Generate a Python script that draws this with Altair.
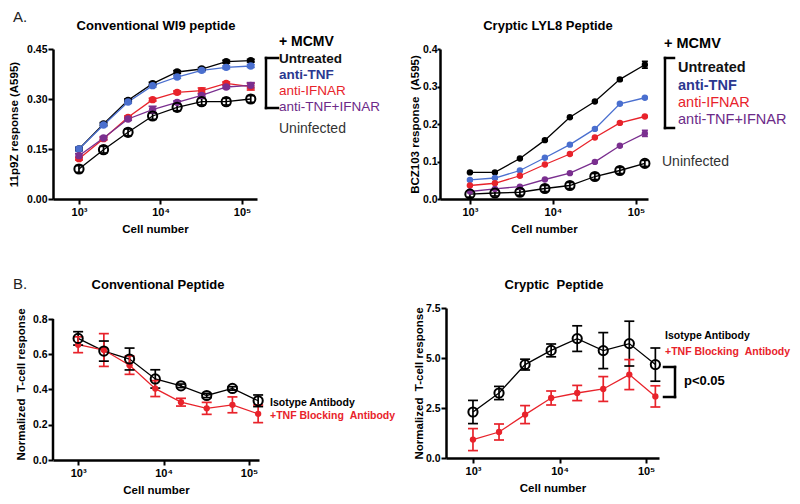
import altair as alt
import pandas as pd

FONT = "Liberation Sans"
NB = "\u00a0"  # keeps the double spaces of the original labels visible

# ---------------- data ----------------
cells = [1000, 2000, 4000, 8000, 16000, 32000, 64000, 128000]

# Panel A (left): Conventional WI9 peptide, 11p9Z response (A595)
a1_untreated = [0.150, 0.225, 0.296, 0.346, 0.381, 0.390, 0.412, 0.415]
a1_anti_tnf = [0.150, 0.222, 0.291, 0.340, 0.366, 0.386, 0.395, 0.399]
a1_anti_ifnar = [0.121, 0.181, 0.245, 0.298, 0.320, 0.325, 0.347, 0.337]
a1_anti_both = [0.130, 0.183, 0.240, 0.268, 0.290, 0.311, 0.336, 0.341]
a1_uninfected = [0.090, 0.148, 0.200, 0.249, 0.275, 0.292, 0.292, 0.300]
a1_untreated_err = [0.004, 0.004, 0.004, 0.004, 0.004, 0.004, 0.004, 0.004]
a1_anti_tnf_err = [0.006, 0.004, 0.004, 0.004, 0.004, 0.004, 0.004, 0.004]
a1_anti_ifnar_err = [0.004, 0.004, 0.004, 0.004, 0.004, 0.008, 0.004, 0.010]
a1_anti_both_err = [0.006, 0.004, 0.004, 0.010, 0.004, 0.004, 0.004, 0.008]
a1_uninfected_err = [0.010, 0.010, 0.010, 0.010, 0.010, 0.010, 0.010, 0.010]

# Panel A (right): Cryptic LYL8 peptide, BCZ103 response (A595)
a2_untreated = [0.071, 0.071, 0.108, 0.157, 0.218, 0.260, 0.319, 0.358]
a2_anti_tnf = [0.051, 0.056, 0.076, 0.110, 0.145, 0.187, 0.254, 0.270]
a2_anti_ifnar = [0.036, 0.042, 0.062, 0.092, 0.120, 0.164, 0.203, 0.220]
a2_anti_both = [0.020, 0.027, 0.033, 0.052, 0.069, 0.099, 0.142, 0.175]
a2_uninfected = [0.013, 0.016, 0.018, 0.028, 0.036, 0.060, 0.076, 0.095]
a2_untreated_err = [0.002, 0.002, 0.002, 0.002, 0.002, 0.002, 0.003, 0.009]
a2_anti_tnf_err = [0.002, 0.002, 0.002, 0.002, 0.002, 0.002, 0.002, 0.002]
a2_anti_ifnar_err = [0.002, 0.002, 0.002, 0.002, 0.002, 0.002, 0.002, 0.002]
a2_anti_both_err = [0.002, 0.002, 0.002, 0.002, 0.002, 0.002, 0.002, 0.008]
a2_uninfected_err = [0.008, 0.008, 0.008, 0.008, 0.008, 0.008, 0.008, 0.008]

# Panel B (left): Conventional peptide, normalized T-cell response
b1_isotype = [0.690, 0.618, 0.573, 0.460, 0.421, 0.366, 0.406, 0.336]
b1_isotype_err = [0.038, 0.057, 0.062, 0.052, 0.010, 0.012, 0.010, 0.033]
b1_tnf_block = [0.654, 0.624, 0.538, 0.405, 0.328, 0.293, 0.313, 0.262]
b1_tnf_block_err = [0.045, 0.093, 0.052, 0.045, 0.022, 0.034, 0.045, 0.050]

# Panel B (right): Cryptic peptide, normalized T-cell response
b2_isotype = [2.30, 3.25, 4.67, 5.38, 5.97, 5.37, 5.72, 4.67]
b2_isotype_err = [0.58, 0.33, 0.27, 0.32, 0.64, 0.90, 1.12, 0.83]
b2_tnf_block = [0.92, 1.30, 2.17, 3.00, 3.25, 3.45, 4.17, 3.08]
b2_tnf_block_err = [0.55, 0.40, 0.45, 0.35, 0.38, 0.62, 0.75, 0.53]

# texts
a_series = ["Untreated", "anti-TNF", "anti-IFNAR", "anti-TNF+IFNAR", "Uninfected"]
b_series = ["Isotype Antibody", "+TNF Blocking " + NB + "Antibody"]
panel_titles = ["Conventional WI9 peptide", "Cryptic LYL8 Peptide",
                "Conventional Peptide", "Cryptic " + NB + "Peptide"]
y_titles = ["11p9Z response (A595)", "BCZ103 response " + NB + "(A595)",
            "Normalized " + NB + "T-cell response", "Normalized " + NB + "T-cell response"]
x_title = "Cell number"
group_label = "+ MCMV"
signif_label = "p<0.05"
panel_letters = ["A.", "B."]
decade_ticks = [1000, 10000, 100000]

# ---------------- styling ----------------
BLACK = "#000000"
BLUE = "#4a6fcf"
RED = "#e8232b"
PURPLE = "#7a2f8f"
a_line_colors = [BLACK, BLUE, RED, PURPLE, BLACK]
a_text_colors = ["#111111", "#2b3890", RED, "#6c2a88", "#333333"]
b_line_colors = [BLACK, RED]


def long_df(series_names, values, errs):
    rows = []
    for name, vals, es in zip(series_names, values, errs):
        for c, v, e in zip(cells, vals, es):
            rows.append({"cells": c, "value": v, "lo": v - e, "hi": v + e, "series": name})
    return pd.DataFrame(rows)


def text(label, x, y, color="black", size=13.5, weight="normal", align="left"):
    return alt.Chart(pd.DataFrame({"t": [label]})).mark_text(
        align=align, baseline="middle", font=FONT, fontSize=size,
        fontWeight=weight, color=color
    ).encode(x=alt.value(x), y=alt.value(y), text="t:N")


def seg(x1, y1, x2, y2, w=2.5, opacity=1.0):
    return alt.Chart(pd.DataFrame({"a": [0]})).mark_rule(
        strokeWidth=w, color="black", strokeCap="square", opacity=opacity
    ).encode(x=alt.value(x1), x2=alt.value(x2), y=alt.value(y1), y2=alt.value(y2))


def panel(df, names, colors, open_names, x_domain, y_domain, y_values, y_fmt,
          width, height, y_title, title, title_x, y_title_pad, y_tick, y_lab_pad,
          pt_size, open_size, cap, extra, draw_axis_line=False):
    xscale = alt.Scale(type="log", domain=x_domain, nice=False)
    yscale = alt.Scale(domain=y_domain, nice=False, zero=False)
    xaxis = alt.Axis(values=decade_ticks, title=x_title,
                     labelExpr="datum.value == 1000 ? '10\u00b3' : datum.value == 10000 ? '10\u2074' : '10\u2075'",
                     tickSize=5, labelPadding=2, titlePadding=6, labelFontSize=11)
    yaxis = alt.Axis(values=y_values, format=y_fmt, title=y_title, tickSize=y_tick,
                     labelPadding=y_lab_pad, titlePadding=y_title_pad, domain=not draw_axis_line)

    def X(f="cells"):
        return alt.X(f"{f}:Q", scale=xscale, axis=xaxis)

    def Y(f):
        return alt.Y(f"{f}:Q", scale=yscale, axis=yaxis)

    color = alt.Color("series:N", scale=alt.Scale(domain=names, range=colors), legend=None)
    base = alt.Chart(df)
    filled = [n for n in names if n not in open_names]

    lines = base.mark_line(strokeWidth=1.3).encode(x=X(), y=Y("value"), color=color)
    bars = base.mark_rule(strokeWidth=1.7).encode(x=X(), y=Y("lo"), y2="hi", color=color)
    cap_lo = base.mark_rule(strokeWidth=1.7, xOffset=-cap, x2Offset=cap).encode(
        x=X(), x2="cells", y=Y("lo"), color=color)
    cap_hi = base.mark_rule(strokeWidth=1.7, xOffset=-cap, x2Offset=cap).encode(
        x=X(), x2="cells", y=Y("hi"), color=color)
    dots = base.transform_filter(
        alt.FieldOneOfPredicate(field="series", oneOf=filled)
    ).mark_circle(size=pt_size, opacity=1).encode(x=X(), y=Y("value"), color=color)
    rings = base.transform_filter(
        alt.FieldOneOfPredicate(field="series", oneOf=open_names)
    ).mark_point(shape="circle", filled=False, size=open_size, strokeWidth=2,
                 color="black", opacity=1).encode(x=X(), y=Y("value"))

    layers = [lines, bars, cap_lo, cap_hi, dots, rings]
    if draw_axis_line:
        axis_df = pd.DataFrame({"value": [y_values[0]], "top": [y_values[-1]]})
        layers.insert(0, alt.Chart(axis_df).mark_rule(strokeWidth=2.5, color="black").encode(
            x=alt.value(0), y=Y("value"), y2="top"))
    layers.append(text(title, title_x, -23, weight="bold", size=13, align="center"))
    layers += extra
    return alt.layer(*layers).properties(width=width, height=height)


# ---------------- panel A left ----------------
dfa1 = long_df(a_series,
               [a1_untreated, a1_anti_tnf, a1_anti_ifnar, a1_anti_both, a1_uninfected],
               [a1_untreated_err, a1_anti_tnf_err, a1_anti_ifnar_err, a1_anti_both_err, a1_uninfected_err])
a1_extra = [
    seg(-45, 0, -45, 10, w=1, opacity=0),
    text(panel_letters[0], -40, -32, color="#222222", size=15),
    text(group_label, 226, -7, weight="bold", size=14),
    seg(213, 9, 225, 9), seg(213, 9, 213, 59), seg(213, 59, 225, 59),
    text(a_series[0], 226, 10, color=a_text_colors[0], weight="bold"),
    text(a_series[1], 226, 26, color=a_text_colors[1], weight="bold"),
    text(a_series[2], 226, 42, color=a_text_colors[2]),
    text(a_series[3], 226, 58, color=a_text_colors[3]),
    text(a_series[4], 226, 80, color=a_text_colors[4], size=14),
]
pa1 = panel(dfa1, a_series, a_line_colors, ["Uninfected"], [480, 152700], [0, 0.45],
            [0, 0.15, 0.30, 0.45], ".2f", 204, 150, y_titles[0], panel_titles[0], 103,
            7, 5, 1, 55, 85, 4, a1_extra)

# ---------------- panel A right ----------------
dfa2 = long_df(a_series,
               [a2_untreated, a2_anti_tnf, a2_anti_ifnar, a2_anti_both, a2_uninfected],
               [a2_untreated_err, a2_anti_tnf_err, a2_anti_ifnar_err, a2_anti_both_err, a2_uninfected_err])
a2_extra = [
    text(group_label, 224, -5, weight="bold", size=14.5),
    seg(225, 9, 234, 9), seg(225, 9, 225, 79), seg(225, 79, 234, 79),
    text(a_series[0], 238, 19, color=a_text_colors[0], weight="bold", size=14.5),
    text(a_series[1], 238, 37, color=a_text_colors[1], weight="bold", size=14.5),
    text(a_series[2], 238, 54, color=a_text_colors[2], size=14.5),
    text(a_series[3], 238, 71, color=a_text_colors[3], size=14.5),
    text(a_series[4], 222, 113, color=a_text_colors[4], size=14),
]
pa2 = panel(dfa2, a_series, a_line_colors, ["Uninfected"], [436, 139600], [0, 0.4],
            [0, 0.1, 0.2, 0.3, 0.4], ".1f", 208, 150, y_titles[1], panel_titles[1], 108,
            2, 3, 0, 40, 85, 3, a2_extra)

# ---------------- panel B left ----------------
dfb1 = long_df(b_series, [b1_isotype, b1_tnf_block], [b1_isotype_err, b1_tnf_block_err])
b1_extra = [
    seg(-45, 0, -45, 10, w=1, opacity=0),
    text(panel_letters[1], -40, -24, color="#222222", size=15),
    text(b_series[0], 217, 95, weight="bold", size=10.5),
    text(b_series[1], 217, 108, color=RED, weight="bold", size=10.5),
]
pb1 = panel(dfb1, b_series, b_line_colors, ["Isotype Antibody"], [508, 131000],
            [0, 0.8 * 152 / 141], [0, 0.2, 0.4, 0.6, 0.8], ".1f", 206, 152,
            y_titles[2], panel_titles[2], 105, 6, 5, 1, 40, 85, 5, b1_extra,
            draw_axis_line=True)

# ---------------- panel B right ----------------
dfb2 = long_df(b_series, [b2_isotype, b2_tnf_block], [b2_isotype_err, b2_tnf_block_err])
b2_extra = [
    text(b_series[0], 219, 28, weight="bold", size=10.5),
    text(b_series[1], 219, 44, color=RED, weight="bold", size=10.5),
    seg(218, 59, 229, 59), seg(229, 59, 229, 89), seg(218, 89, 229, 89),
    text(signif_label, 238, 73, weight="bold", size=13),
]
pb2 = panel(dfb2, b_series, b_line_colors, ["Isotype Antibody"], [488, 141000],
            [0, 7.5], [0, 2.5, 5.0, 7.5], ".1f", 213, 150, y_titles[3], panel_titles[3], 108,
            1, 5, 1, 40, 85, 5, b2_extra)

row_a = alt.hconcat(pa1, pa2, spacing=183, bounds="flush")
row_b = alt.hconcat(pb1, pb2, spacing=187, bounds="flush")

chart = alt.vconcat(row_a, row_b, spacing=42).resolve_scale(color="independent").properties(
    padding={"left": 0, "top": 2, "right": 0, "bottom": 0}
).configure_view(stroke=None).configure_axis(
    grid=False, domainColor="black", domainWidth=2.5, tickColor="black", tickWidth=2,
    labelFont=FONT, labelFontWeight="bold", labelFontSize=10.5, labelColor="black",
    titleFont=FONT, titleFontWeight="bold", titleFontSize=11.5, titleColor="black",
)

chart.save("out.html", embed_options={"renderer": "svg", "actions": False})
